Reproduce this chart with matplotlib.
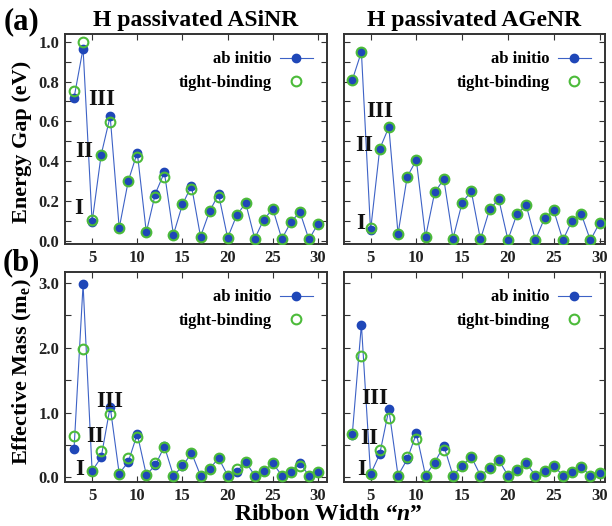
import matplotlib
matplotlib.use("Agg")
import matplotlib.pyplot as plt
from matplotlib.ticker import MultipleLocator, FormatStrFormatter

plt.rcParams['font.family'] = ['Liberation Serif', 'DejaVu Serif']
plt.rcParams['font.weight'] = 'bold'
plt.rcParams['mathtext.fontset'] = 'custom'
plt.rcParams['mathtext.rm'] = 'Liberation Serif:bold'
plt.rcParams['mathtext.it'] = 'Liberation Serif:bold:italic'

# ---------------- data ----------------
n_width = list(range(3, 31))

gap_si_abinitio = [0.718, 0.966, 0.093, 0.431, 0.625, 0.063, 0.299, 0.443, 0.042, 0.236,
                   0.343, 0.030, 0.182, 0.275, 0.020, 0.147, 0.233, 0.014, 0.127, 0.189,
                   0.010, 0.106, 0.160, 0.008, 0.093, 0.144, 0.006, 0.084]
gap_si_tb = [0.752, 0.997, 0.105, 0.431, 0.595, 0.063, 0.299, 0.419, 0.042, 0.220,
             0.321, 0.030, 0.182, 0.262, 0.020, 0.147, 0.220, 0.014, 0.127, 0.189,
             0.010, 0.106, 0.160, 0.008, 0.093, 0.144, 0.006, 0.084]

gap_ge_abinitio = [0.807, 0.949, 0.051, 0.461, 0.571, 0.034, 0.321, 0.405, 0.017, 0.242,
                   0.309, 0.010, 0.191, 0.248, 0.006, 0.157, 0.208, 0.004, 0.135, 0.177,
                   0.003, 0.113, 0.152, 0.002, 0.101, 0.135, 0.002, 0.088]
gap_ge_tb = [0.807, 0.949, 0.063, 0.461, 0.571, 0.034, 0.321, 0.405, 0.017, 0.242,
             0.309, 0.010, 0.191, 0.248, 0.006, 0.157, 0.208, 0.004, 0.135, 0.177,
             0.003, 0.113, 0.152, 0.002, 0.101, 0.135, 0.002, 0.088]

mass_si_abinitio = [0.44, 2.98, 0.10, 0.31, 1.09, 0.06, 0.24, 0.67, 0.04, 0.19,
                    0.48, 0.03, 0.17, 0.38, 0.03, 0.13, 0.30, 0.03, 0.09, 0.24,
                    0.03, 0.10, 0.22, 0.03, 0.09, 0.22, 0.03, 0.08]
mass_si_tb = [0.64, 1.98, 0.10, 0.41, 0.98, 0.06, 0.30, 0.63, 0.04, 0.23,
              0.47, 0.03, 0.19, 0.38, 0.03, 0.13, 0.30, 0.03, 0.13, 0.24,
              0.03, 0.10, 0.22, 0.03, 0.09, 0.18, 0.03, 0.08]

mass_ge_abinitio = [0.66, 2.36, 0.05, 0.36, 1.05, 0.03, 0.28, 0.68, 0.03, 0.23,
                    0.49, 0.03, 0.18, 0.32, 0.03, 0.14, 0.27, 0.03, 0.12, 0.22,
                    0.03, 0.10, 0.18, 0.03, 0.09, 0.16, 0.03, 0.07]
mass_ge_tb = [0.67, 1.87, 0.05, 0.43, 0.91, 0.03, 0.32, 0.59, 0.03, 0.23,
              0.42, 0.03, 0.18, 0.32, 0.03, 0.14, 0.27, 0.03, 0.12, 0.22,
              0.03, 0.10, 0.18, 0.03, 0.09, 0.16, 0.03, 0.07]

titles = ["H passivated ASiNR", "H passivated AGeNR"]
legend_labels = ["ab initio", "tight-binding"]
x_ticks = [5, 10, 15, 20, 25, 30]

# roman numeral annotations (x, y) per panel
roman_text = ["I", "II", "III"]
roman_pos = {
    "tl": [(3.5, 0.16), (4.1, 0.45), (6.1, 0.71)],
    "tr": [(3.9, 0.087), (4.3, 0.48), (6.0, 0.65)],
    "bl": [(3.65, 0.12), (5.3, 0.63), (6.95, 1.17)],
    "br": [(4.0, 0.12), (4.9, 0.60), (5.5, 1.22)],
}

BLUE = '#1f47b8'
LINE = '#3d62c6'
GREEN = '#4cbb3a'

fig = plt.figure(figsize=(6.12, 5.26), dpi=100)
W, H = 612.0, 526.0


def make_ax(l, r, t, b):
    return fig.add_axes([l / W, 1 - b / H, (r - l) / W, (b - t) / H])


ax_tl = make_ax(65, 327, 34, 244)
ax_tr = make_ax(344, 605, 34, 244)
ax_bl = make_ax(65, 327, 272, 482)
ax_br = make_ax(344, 605, 272, 482)

panels = [
    (ax_tl, gap_si_abinitio, gap_si_tb, "tl", (2.0, 31.0)),
    (ax_tr, gap_ge_abinitio, gap_ge_tb, "tr", (2.1, 30.6)),
    (ax_bl, mass_si_abinitio, mass_si_tb, "bl", (2.0, 31.0)),
    (ax_br, mass_ge_abinitio, mass_ge_tb, "br", (2.1, 30.6)),
]

for ax, ya, yt, key, xl in panels:
    ax.plot(n_width, ya, '-', color=LINE, lw=0.8, marker='o', ms=6.0,
            mfc=BLUE, mec=BLUE, label=legend_labels[0], zorder=3)
    ax.plot(n_width, yt, 'o', ms=7.0, mfc='none', mec=GREEN, mew=1.5,
            label=legend_labels[1], zorder=4)
    ax.set_xlim(*xl)
    ax.set_xticks(x_ticks)
    ax.tick_params(which='both', direction='in', top=True, right=True,
                   length=4, width=0.8, colors='#333333',
                   labelsize=12, labelcolor='#222222', pad=4)
    for sp in ax.spines.values():
        sp.set_linewidth(1.4)
        sp.set_color('#333333')
    leg = ax.legend(loc='upper right', bbox_to_anchor=(0.985, 0.965), frameon=False,
                    markerfirst=False, fontsize=12, handlelength=2.0,
                    handletextpad=0.5, labelspacing=0.45, borderaxespad=0.2)
    for (x, y), s in zip(roman_pos[key], roman_text):
        ax.text(x, y, s, fontsize=16.5, fontweight='bold', ha='center',
                va='center', color='#111111')

for ax in (ax_tl, ax_tr):
    ax.set_ylim(-0.017, 1.039)
    ax.yaxis.set_major_locator(MultipleLocator(0.2))
    ax.yaxis.set_minor_locator(MultipleLocator(0.1))
    ax.yaxis.set_major_formatter(FormatStrFormatter('%.1f'))

for ax in (ax_bl, ax_br):
    ax.set_ylim(-0.07, 3.17)
    ax.yaxis.set_major_locator(MultipleLocator(1.0))
    ax.yaxis.set_minor_locator(MultipleLocator(0.5))
    ax.yaxis.set_major_formatter(FormatStrFormatter('%.1f'))

ax_tr.tick_params(labelleft=False)
ax_br.tick_params(labelleft=False)

for ax, t in zip((ax_tl, ax_tr), titles):
    ax.set_title(t, fontsize=17, fontweight='bold', pad=6)

fig.text(21 / W, 1 - 22 / H, "(a)", fontsize=22, fontweight='bold', ha='center', va='center')
fig.text(21 / W, 1 - 263 / H, "(b)", fontsize=22, fontweight='bold', ha='center', va='center')
fig.text(22 / W, 1 - 142 / H, "Energy Gap (eV)", fontsize=16, fontweight='bold',
         rotation=90, ha='center', va='center')
fig.text(22 / W, 1 - 372 / H, r"Effective Mass (m$_\mathrm{e}$)", fontsize=16,
         fontweight='bold', rotation=90, ha='center', va='center')
fig.text(328 / W, 1.5 / H, "Ribbon Width \u201c$\\mathit{n}$\u201d", fontsize=17,
         fontweight='bold', ha='center', va='bottom')

fig.savefig("out.png", dpi=100)
